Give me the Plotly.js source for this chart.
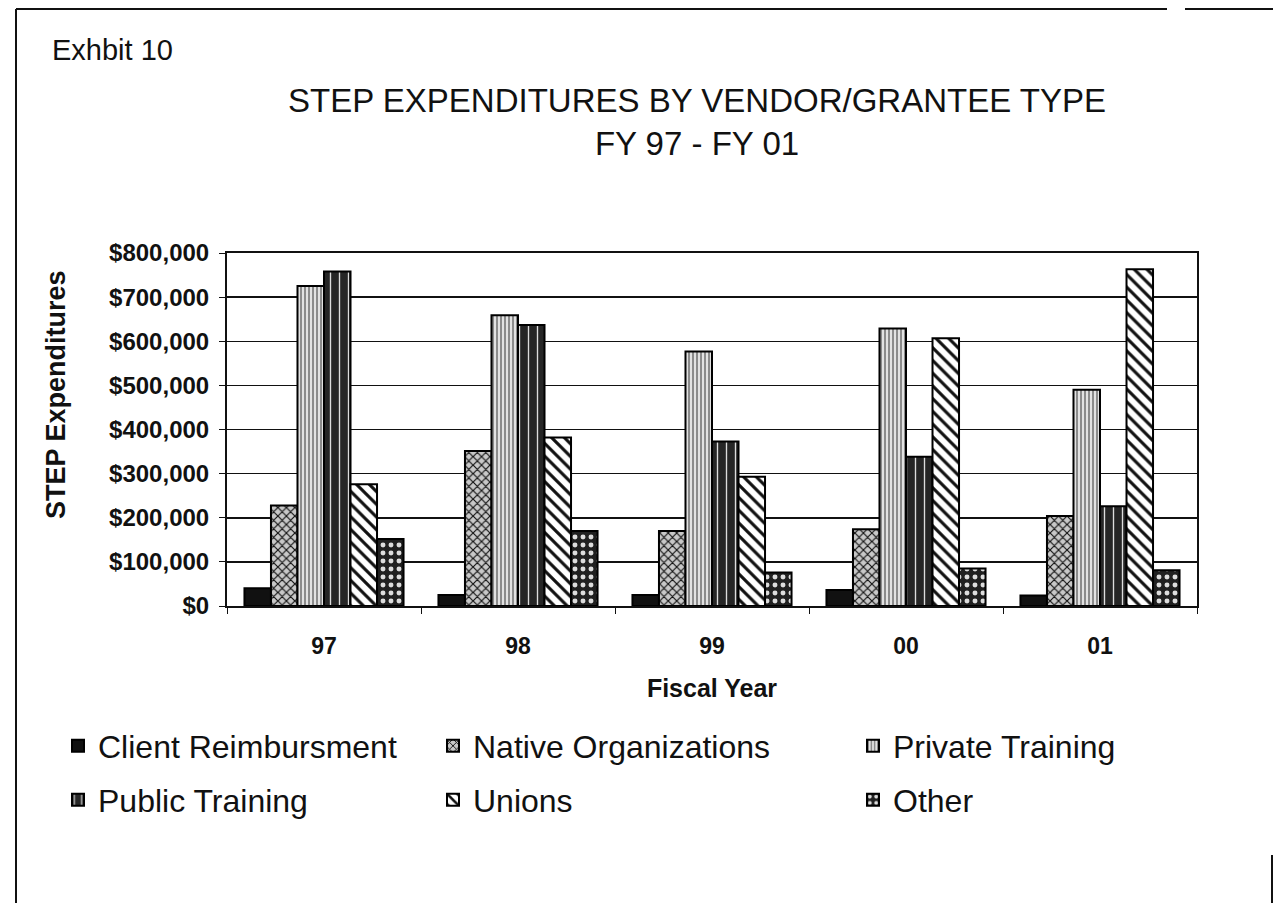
<!DOCTYPE html>
<html>
<head>
<meta charset="utf-8">
<script src="https://cdn.plot.ly/plotly-3.0.1.min.js"></script>
<style>
  html, body { margin: 0; padding: 0; background: #ffffff; }
  #chart { width: 1273px; height: 903px; }
</style>
</head>
<body>
<div id="chart"></div>
<script>
// ---- Data ----
const fiscalYears = ['97', '98', '99', '00', '01'];
const clientReimbursment = [40000, 25000, 25000, 36000, 24000];
const nativeOrganizations = [228000, 351000, 170000, 174000, 204000];
const privateTraining = [725000, 659000, 577000, 629000, 490000];
const publicTraining = [758000, 637000, 373000, 338000, 226000];
const unions = [276000, 382000, 293000, 607000, 763000];
const other = [152000, 170000, 76000, 85000, 81000];
const seriesNames = ['Client Reimbursment', 'Native Organizations', 'Private Training',
                     'Public Training', 'Unions', 'Other'];
const yTickValues = [0, 100000, 200000, 300000, 400000, 500000, 600000, 700000, 800000];

// ---- Geometry helpers (pixel -> paper) ----
const W = 1273, H = 903;
const M = { l: 227, r: 76, t: 253, b: 297 };
const plotW = W - M.l - M.r, plotH = H - M.t - M.b;
const px = x => (x - M.l) / plotW;
const py = y => (H - M.b - y) / plotH;

const FONT = 'Liberation Sans, Arial, Helvetica, sans-serif';

const styles = [
  { color: '#111111' },
  { color: '#bbbbbb', pattern: { shape: 'x', fgcolor: '#111111', bgcolor: '#c8c8c8', size: 6, solidity: 0.35, fillmode: 'replace' } },
  { color: '#dddddd', pattern: { shape: '|', fgcolor: '#666666', bgcolor: '#e2e2e2', size: 4, solidity: 0.35, fillmode: 'replace' } },
  { color: '#333333', pattern: { shape: '|', fgcolor: '#dddddd', bgcolor: '#262626', size: 9, solidity: 0.15, fillmode: 'replace' } },
  { color: '#ffffff', pattern: { shape: '\\', fgcolor: '#111111', bgcolor: '#ffffff', size: 9, solidity: 0.35, fillmode: 'replace' } },
  { color: '#222222', pattern: { shape: '.', fgcolor: '#dddddd', bgcolor: '#202020', size: 8, solidity: 0.3, fillmode: 'replace' } }
];
const seriesValues = [clientReimbursment, nativeOrganizations, privateTraining,
                      publicTraining, unions, other];
const legendIds = ['legend', 'legend2', 'legend3', 'legend4', 'legend5', 'legend6'];

const traces = seriesValues.map((vals, i) => {
  const marker = { color: styles[i].color, line: { color: '#000000', width: 2 } };
  if (styles[i].pattern) marker.pattern = styles[i].pattern;
  return {
    type: 'bar',
    name: seriesNames[i],
    x: fiscalYears,
    y: vals,
    marker: marker,
    legend: legendIds[i],
    hoverinfo: 'x+y+name'
  };
});

// legend positions (container coords)
const legCols = [58, 433, 853];
const legRows = [746, 800];
function legendAt(col, row) {
  return {
    xref: 'container', yref: 'container',
    x: legCols[col] / W, y: 1 - legRows[row] / H,
    xanchor: 'left', yanchor: 'middle',
    bgcolor: 'rgba(0,0,0,0)', borderwidth: 0,
    font: { family: FONT, size: 32, color: '#111111' }
  };
}

const frameLine = { color: '#111111', width: 2 };
const layout = {
  width: W, height: H,
  margin: { l: M.l, r: M.r, t: M.t, b: M.b, autoexpand: false },
  paper_bgcolor: '#ffffff',
  plot_bgcolor: '#ffffff',
  barmode: 'group',
  bargap: 0.18,
  bargroupgap: 0,
  font: { family: FONT, color: '#111111' },
  title: {
    text: 'STEP EXPENDITURES BY VENDOR/GRANTEE TYPE<br>FY 97 - FY 01',
    font: { family: FONT, size: 33, color: '#111111' },
    xref: 'container', yref: 'container',
    x: 697 / W, xanchor: 'center',
    y: 1 - 112 / H, yanchor: 'top'
  },
  xaxis: {
    type: 'category',
    showline: true, linecolor: '#111111', linewidth: 2, mirror: true,
    ticks: 'outside', tickson: 'boundaries', ticklen: 6, tickcolor: '#111111', tickwidth: 1,
    tickfont: { family: FONT, size: 23, color: '#111111', weight: 'bold' },
    ticklabelstandoff: 18,
    tickangle: 0,
    showgrid: false,
    title: { text: 'Fiscal Year', font: { family: FONT, size: 25, color: '#111111', weight: 'bold' }, standoff: 22 }
  },
  yaxis: {
    range: [0, 800000],
    tickvals: yTickValues,
    tickformat: '$,.0f',
    showline: true, linecolor: '#111111', linewidth: 2, mirror: true,
    ticks: 'outside', ticklen: 6, tickcolor: '#111111', tickwidth: 1,
    tickfont: { family: FONT, size: 24, color: '#111111', weight: 'bold' },
    ticklabelstandoff: 5,
    showgrid: true, gridcolor: '#111111', gridwidth: 1.5,
    zeroline: false
  },
  legend: legendAt(0, 0),
  legend2: legendAt(1, 0),
  legend3: legendAt(2, 0),
  legend4: legendAt(0, 1),
  legend5: legendAt(1, 1),
  legend6: legendAt(2, 1),
  annotations: [
    {
      text: 'Exhbit 10', showarrow: false,
      xref: 'paper', yref: 'paper',
      x: px(50), y: py(50), xanchor: 'left', yanchor: 'middle',
      font: { family: FONT, size: 29, color: '#111111' }
    },
    {
      text: 'STEP Expenditures', showarrow: false, textangle: -90,
      xref: 'paper', yref: 'paper',
      x: px(56), y: py(395), xanchor: 'center', yanchor: 'middle',
      font: { family: FONT, size: 27, color: '#111111', weight: 'bold' }
    }
  ],
  shapes: [
    { type: 'line', xref: 'paper', yref: 'paper', x0: px(16), x1: px(1167), y0: py(9), y1: py(9), line: frameLine },
    { type: 'line', xref: 'paper', yref: 'paper', x0: px(1185), x1: px(1273), y0: py(9), y1: py(9), line: frameLine },
    { type: 'line', xref: 'paper', yref: 'paper', x0: px(16), x1: px(16), y0: py(9), y1: py(903), line: frameLine },
    { type: 'line', xref: 'paper', yref: 'paper', x0: px(1272), x1: px(1272), y0: py(855), y1: py(903), line: frameLine }
  ],
  showlegend: true
};

Plotly.newPlot('chart', traces, layout, { displayModeBar: false, staticPlot: true });
</script>
</body>
</html>
